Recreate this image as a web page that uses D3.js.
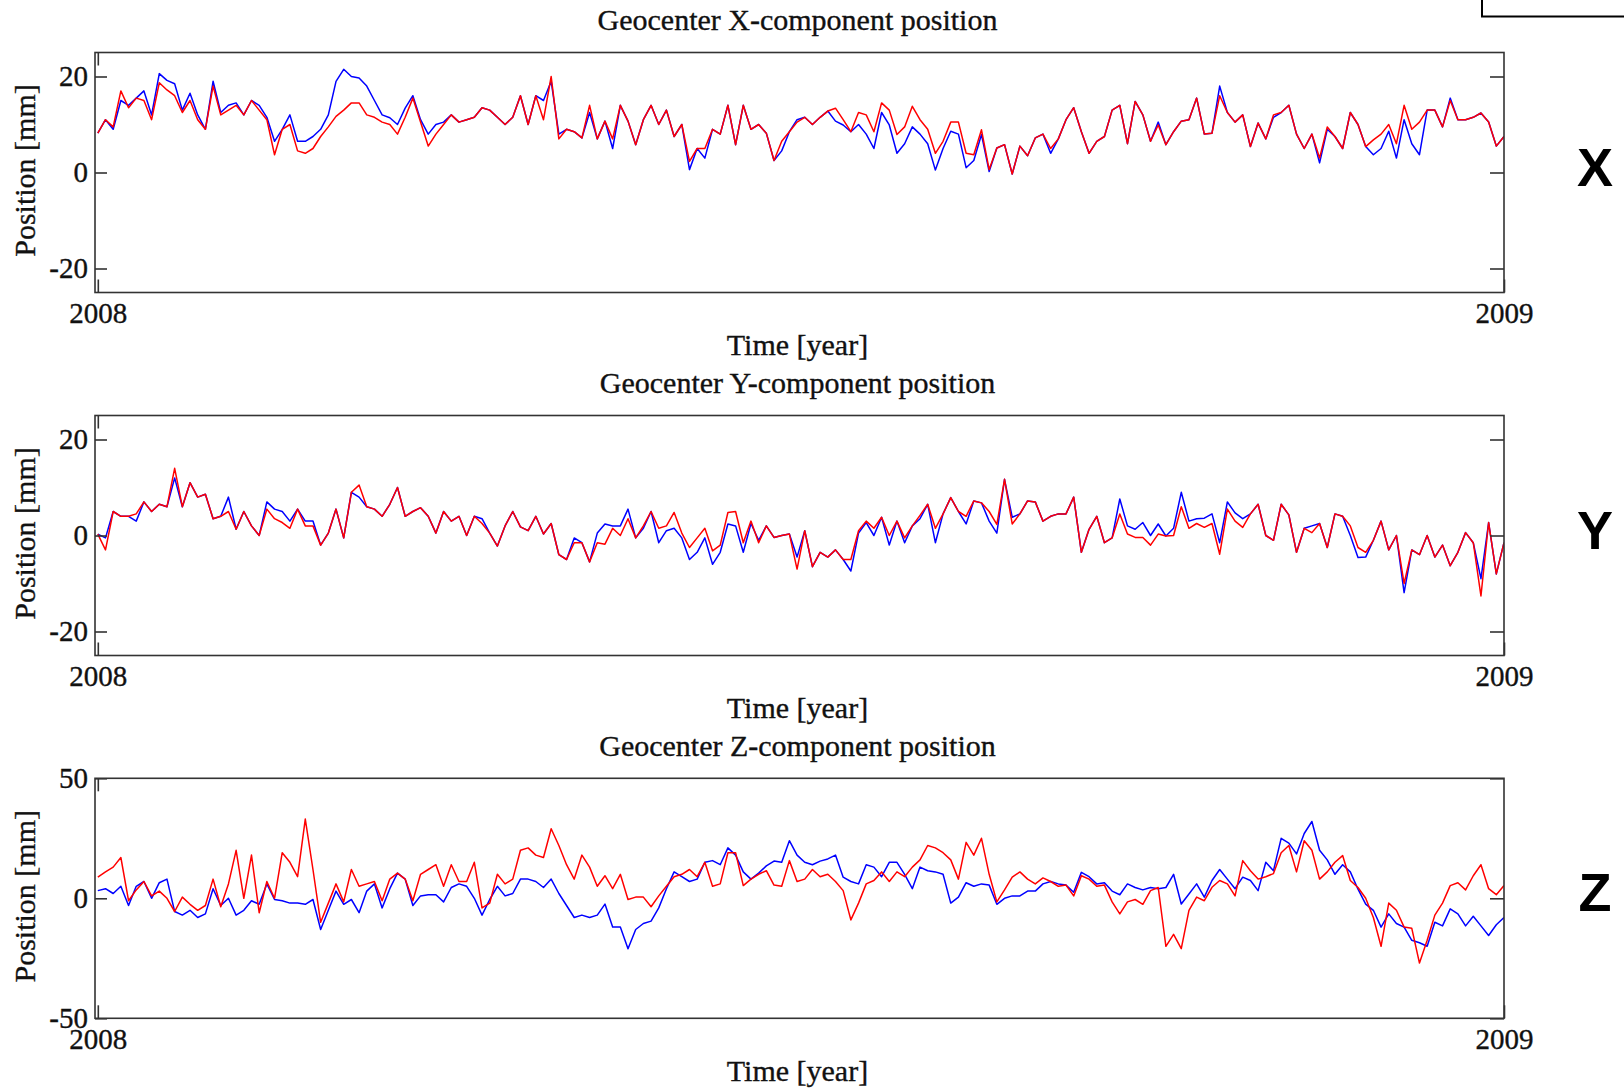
<!DOCTYPE html>
<html>
<head>
<meta charset="utf-8">
<script src="https://cdn.jsdelivr.net/npm/d3@7"></script>
<style>
  html, body { margin: 0; padding: 0; background: #fff; }
  svg { display: block; }
</style>
</head>
<body>
<svg id="chart" width="1624" height="1089"></svg>
<script>
// Day of year 2008 for each sample (every second day)
const sampleDays = d3.range(0, 367, 2);
const yearTicks = [2008, 2009];
const ticksXY = [-20, 0, 20];
const ticksZ = [-50, 0, 50];

// X component [mm]
const xBlue = [8.2,11,9,15,14,15.5,17,12,20.6,19.2, 18.5,13,16.5,12,9,19,12.5,14,14.5,12, 15,14,11.5,6.5,9,12,6.5,6.5,7.5,9,
  12,19,21.5,20,19.7,18,15,12,11.4,10, 13.4,16,11,8,10,10.5,12,10.5,11,11.5, 13.5,13,11.5,10,11.5,16,10,16,15,19, 8,9,
  8.5,7.2,12.5,7,10.7,5,14,10.7,5.8,11, 14,10,13,7.5,10,0.6,5,3,9,8, 14,5.8,14,9,10,8.2,2.5,4.5,8.5,11,
  11.5,10,11.5,12.8,10.7,9.9,8.5,10,8,5, 12.5,9.9,4,6,9.5,8,6,0.5,5,8.6, 8,1,2.5,7.9,0.2,5.1,5.8,-0.3,5.5,3.5, 7.2,
  8,4,7,11,13.5,8.5,4,6.5,7.5,13, 14,6,14.8,12,6.5,10.5,5.8,8.5,10.7,11, 15.5,8,8.2,18,12.5,10.5,12,5.4,10.3,7,
  11.5,12.5,14,8,5,8,2,9,7.5,5, 12.5,10,5.4,3.7,5,8.6,3,11,6,3.7, 13,13,9.5,15.5,11,11,11.5,12.4,10.5,5.5, 7.5];
const xRed = [8.2,11,9.5,17,13.5,15.5,15,11,18.7,17.2, 16,12.5,15,11,9,18,12,13,14,12, 15,13,11,3.7,9,10,4.5,4,5,7.5,
  9.5,11.7,13,14.5,14.5,12,11.5,10.5,10,8, 11.5,15.5,10.5,5.5,8,10,12,10.5,11,11.5, 13.5,13,11.5,10,11.5,16,10,16,11,20, 7,9,
  8.5,7.2,14,7,10.7,7,14,10.7,5.8,11, 14,10,13,7.5,10,2.3,5,5,9,8, 14,5.8,14,9,10,8.2,2.5,6.5,8.5,10.5,
  11.5,10,11.5,12.8,13.4,11,8.5,12.5,12,8.5, 14.5,13,7.9,9.5,13.8,11,9,4,6.5,10.5, 10.5,4,3.7,8.9,0.6,5.1,5.8,-0.3,5.5,3.5, 7.2,
  8,5,7,11,13.5,8.5,4,6.5,7.5,13, 14,6,14.8,12,6.5,9.9,5.8,8.5,10.7,11, 15.5,8,8.2,16,12.5,10.5,12,5.4,10.3,7,
  12,12.5,14,8,5,8,3,9.5,7.5,5, 12.5,10,5.4,6.8,8,10,6,14,9,10.5, 13,13,9.5,15,11,11,11.5,12.4,10.5,5.5, 7.5];

// Y component [mm]
const yBlue = [0.3,-0.5,5,4,4,3,7,5,6.5,6, 12,6,11,8,8.6,3.5,4,8,1.3,5, 2,0,7,5.5,5,3,5.5,3,3,-2,
  0.5,5.5,-0.5,9,8,6,5.5,4,6.5,10, 4,5,5.8,4,0.5,5,3,4,0,4, 3.5,0.5,-2.2,2,5,1.8,1,4,0.3,2.5, -4,-5,
  -0.5,-1.5,-5.5,0.5,2.4,2,2,5.5,-0.5,1.5, 5,-1.5,1,1.5,-0.5,-5,-3.5,-0.5,-6,-3.5, 2.4,2,-3.5,2.5,-1,2,-0.4,0,0.3,-4.5,
  1,-6.5,-3.5,-4.5,-3,-5,-7.4,0.5,2.7,0, 3.8,-2,3,-1.5,2,3.5,6.5,-1.5,4.5,7.9, 5,2.4,7.2,6.8,3,0.5,11.7,3.8,4.5,7.2, 7,
  3,4,4.5,4.5,8,-3.5,1.3,4,-1.5,-0.5, 7.6,2,1.3,2.7,0,2.4,-0.1,1.5,9,3, 3.5,3.6,4.5,-1.5,7,4.7,3.5,4.5,6.5,0,
  -1,6.5,4.3,-3.5,1.5,2,2.5,-2.5,4.5,4, 0,-4.6,-4.5,-1,3,-3,0,-11.9,-3,-4, 0,-4.5,-2,-6.3,-3.5,0.6,-1.5,-9,2.7,-8, -1.5];
const yRed = [0.3,-3,5,4,4,4.5,7,5,6.5,6, 14,6,11,8,8.6,3.5,4,5,1.3,5, 2,0,5.5,3.5,2.7,1.5,5.5,2,2,-2,
  0.5,5.5,-0.5,9,10.5,6,5.5,4,6.5,10, 4,5,5.8,4,0.5,5,3,4,0,4, 2.5,0.5,-2.2,2,5,1.8,1,4,0.3,2.5, -4,-5,
  -1.5,-1.5,-5.5,-1.5,-1.8,1.5,0,3.5,-0.5,2, 5,1.5,2,4.8,0.5,-2.5,-0.5,1.5,-3.2,-2, 4.8,5,-1.5,3,-1.5,2,-0.4,0,0.3,-7,
  1,-6.5,-3.5,-4.5,-3,-5,-5,1,3,1.5, 3.8,0,3,-0.5,2,4.2,6.5,1.5,4.5,7.9, 5,4,7.2,6.8,5,2.3,11.7,2.4,4.5,7.2, 7,
  3,4,4.5,4.5,8,-3.5,1.3,4,-1.5,-0.5, 4.5,0.3,-0.4,-0.4,-2,0.3,-0.1,0,6,1.5, 2.5,1.7,2.5,-3.9,5.5,3,1.7,4.5,6.5,0,
  -1,6.5,4.3,-3.5,1.5,0.6,2.5,-2.5,4.5,4, 2,-2.5,-3.5,-1,3,-3,0,-10,-3,-4, 0,-4.5,-2,-6.3,-3.5,0.6,-1.5,-12.6,2.7,-8, -1.5];

// Z component [mm]
const zBlue = [3.2,4,2,5,-3,5,7,0,6.5,8, -5.5,-7,-5,-8,-6.5,4,-3,0,-7,-5, -1,-2.5,6,-0.5,-1,-2,-2,-2.5,-0.5,-13,
  -5,3,-2.5,-0.5,-6,3,6,-4,4,10.5, 8,-3,1,1.5,1.5,-1.5,4.5,6,5,0, -7,-0.5,5,1,2,8,8,7,4.5,8, 2,-3,
  -8,-7,-8,-7,-2.4,-12,-12,-21,-13,-10.5, -9.5,-4,4,11,9,7,8,15,15.7,14, 21,18,11,8,10.5,13.5,15.5,15,24,18,
  15,14,15.5,16.4,18,8.8,7,6,14,13, 9,15,15,10,4,13,11.5,11,10,-2, 0.5,6.5,5,6,5.5,-2.5,0,1,1,3, 3,
  6,7,6,5.5,2.5,10.8,9,6,6.5,3, 1.5,6,4.5,3.5,4.5,4,4.5,10,-2.4,1.8, 6,0.5,7.4,12,8,4,8.8,7.4,3.2,15,
  11.5,25,23,18.5,27,32,20,16,10,14, 11,3.8,-2.4,-5,-12,-6.5,-10.5,-12,-17.5,-18.5, -20,-10,-11.5,-4.4,-6.5,-11.5,-7.5,-11.5,-15.5,-11, -8];
const zRed = [8.8,11,13,17,-1,3.5,7,1,3,0, -5.5,0.5,-2.5,-5,-3,8,-3.5,6,20,0, 18,-6,7,0,19,15,9,33,12,-10,
  -2,6,-1.5,12,5,6,7,-1,8,10.5, 8,-1,10,12,14,5,14,7,7,15, -4,-2,10,6,8,20,21,18,17,29, 22,14,
  8,18,13,5,9.4,4,10,-0.5,0.5,0.5, -3.5,1,5,9,10,12,9,15,5,6, 19,19,5.3,8,10,11.5,5.5,5,15.7,7,
  8,12,9,10,7,3.2,-9,-2,6,7.4, 11,7,11,9,13,16,22,21,19,16, 8,23.3,18,25,10,-1.5,3.5,8.8,11,8, 6,
  8.5,7,5,5.5,1,9.4,8,5,5.5,-1.5, -6.5,-1.5,-0.5,-2.5,3.2,4.5,-20,-15,-21,-5, 0.5,-1,4.6,7.4,6,1,15.7,11.5,8,9,
  10.3,19,22,11,24,20,8,11,15,17.8, 7.4,4.5,0,-8,-20,-2,-5,-12,-12.5,-27, -17.5,-7,-2,5.3,6.5,3.5,9.4,14,4,1.5, 5.3];

const panels = [
  { title: "Geocenter X-component position", tag: "X", blue: xBlue, red: xRed, domain: [-25, 25], ticks: ticksXY },
  { title: "Geocenter Y-component position", tag: "Y", blue: yBlue, red: yRed, domain: [-25, 25], ticks: ticksXY },
  { title: "Geocenter Z-component position", tag: "Z", blue: zBlue, red: zRed, domain: [-50, 50], ticks: ticksZ }
];

const svg = d3.select("#chart");
const serif = '"Liberation Serif", "Times New Roman", serif';
const sans = '"Liberation Sans", Arial, sans-serif';
const left = 95, width = 1409, height = 240;
const tops = [52.5, 415.5, 778.3];
const frame = "#333";
const ink = "#111";

// serif text with a faint outline so the strokes read a little heavier
const serifText = (sel, size) => sel
  .style("font-family", serif).style("font-size", size + "px")
  .attr("fill", ink).attr("stroke", ink).attr("stroke-width", 0.35);

// frame fragment in the upper-right corner
svg.append("rect")
  .attr("x", 1482).attr("y", -10).attr("width", 200).attr("height", 26.5)
  .attr("fill", "none").attr("stroke", "#000").attr("stroke-width", 2);

const x = d3.scaleLinear().domain([2007.998, 2009]).range([0, width]);
const toYear = d => 2008 + d / 366;

panels.forEach((p, k) => {
  const top = tops[k];
  const y = d3.scaleLinear().domain(p.domain).range([height, 0]);
  const g = svg.append("g").attr("transform", `translate(${left},${top})`);

  g.append("clipPath").attr("id", "clip" + k)
    .append("rect").attr("width", width).attr("height", height);

  const line = d3.line()
    .x((d, i) => x(toYear(sampleDays[i])))
    .y(d => y(d));

  const plot = g.append("g").attr("clip-path", `url(#clip${k})`);
  plot.append("path").datum(p.blue)
    .attr("d", line).attr("fill", "none")
    .attr("stroke", "#0000ff").attr("stroke-width", 1.5).attr("stroke-linejoin", "round");
  plot.append("path").datum(p.red)
    .attr("d", line).attr("fill", "none")
    .attr("stroke", "#ff0000").attr("stroke-width", 1.5).attr("stroke-linejoin", "round");

  const styleAxis = sel => {
    sel.select(".domain").remove();
    sel.selectAll(".tick line").attr("stroke", frame).attr("stroke-width", 1.6);
    sel.selectAll(".tick text").call(serifText, 29);
  };

  g.append("g")
    .call(d3.axisLeft(y).tickValues(p.ticks).tickSize(-12).tickPadding(7).tickFormat(d => String(d)))
    .call(styleAxis);
  g.append("g").attr("transform", `translate(${width},0)`)
    .call(d3.axisRight(y).tickValues(p.ticks).tickSize(-14).tickFormat(""))
    .call(styleAxis);
  g.append("g").attr("transform", `translate(0,${height})`)
    .call(d3.axisBottom(x).tickValues(yearTicks).tickSize(-13).tickPadding(10).tickFormat(d => String(d)))
    .call(styleAxis);
  g.append("g")
    .call(d3.axisTop(x).tickValues([2008]).tickSize(-13).tickFormat(""))
    .call(styleAxis);

  g.append("rect")
    .attr("width", width).attr("height", height)
    .attr("fill", "none").attr("stroke", frame).attr("stroke-width", 1.6);

  // titles and axis labels
  g.append("text")
    .attr("x", width / 2 - 2).attr("y", -22.5)
    .attr("text-anchor", "middle")
    .call(serifText, 30)
    .text(p.title);
  g.append("text")
    .attr("x", width / 2 - 2).attr("y", height + 62.5)
    .attr("text-anchor", "middle")
    .call(serifText, 30)
    .text("Time [year]");
  g.append("text")
    .attr("transform", `translate(${24 - left},${height / 2 - 2}) rotate(-90)`)
    .attr("text-anchor", "middle").attr("dy", "0.35em")
    .call(serifText, 30)
    .text("Position [mm]");

  svg.append("text")
    .attr("x", 1595).attr("y", top + height / 2 + 13)
    .attr("text-anchor", "middle")
    .style("font-family", sans).style("font-weight", "bold").style("font-size", "54px")
    .attr("fill", "#000")
    .text(p.tag);
});
</script>
</body>
</html>
